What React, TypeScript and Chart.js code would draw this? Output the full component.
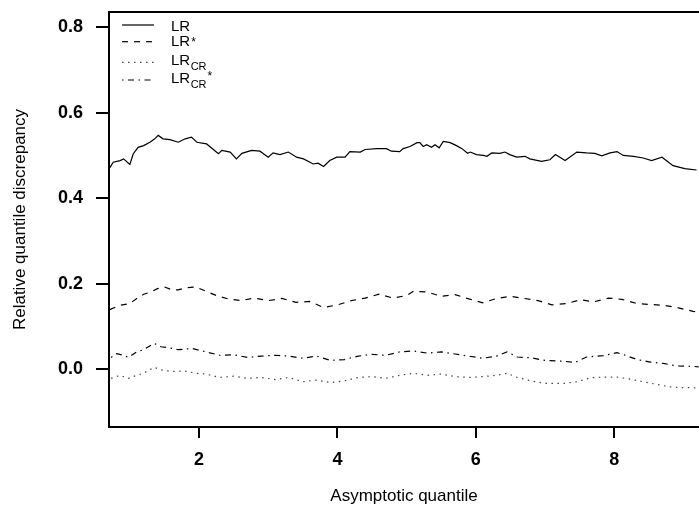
import { useEffect, useRef } from "react";
import { Chart, registerables } from "chart.js";

Chart.register(...registerables);

// ---- data ----
const lrX = [0.71, 0.76, 0.86, 0.91, 1.0, 1.05, 1.12, 1.2, 1.29, 1.36, 1.41, 1.48, 1.58, 1.7, 1.8, 1.89, 1.97, 2.11, 2.28, 2.33, 2.45, 2.54, 2.62, 2.76, 2.88, 3.0, 3.07, 3.17, 3.29, 3.41, 3.51, 3.65, 3.72, 3.8, 3.89, 3.99, 4.11, 4.18, 4.33, 4.4, 4.57, 4.71, 4.78, 4.9, 4.95, 5.05, 5.15, 5.19, 5.24, 5.29, 5.36, 5.41, 5.47, 5.53, 5.63, 5.72, 5.8, 5.88, 5.92, 6.01, 6.11, 6.16, 6.23, 6.35, 6.42, 6.49, 6.59, 6.71, 6.78, 6.95, 7.07, 7.15, 7.29, 7.46, 7.6, 7.72, 7.82, 7.94, 8.04, 8.13, 8.28, 8.42, 8.54, 8.69, 8.85, 9.02, 9.19];
const lrY = [0.471, 0.484, 0.488, 0.492, 0.479, 0.504, 0.519, 0.523, 0.531, 0.539, 0.547, 0.539, 0.537, 0.531, 0.539, 0.543, 0.531, 0.527, 0.504, 0.512, 0.508, 0.492, 0.505, 0.512, 0.51, 0.496, 0.506, 0.502, 0.508, 0.496, 0.492, 0.48, 0.482, 0.474, 0.488, 0.496, 0.496, 0.509, 0.508, 0.514, 0.516, 0.516, 0.51, 0.509, 0.516, 0.521, 0.53, 0.53, 0.521, 0.525, 0.519, 0.525, 0.518, 0.533, 0.53, 0.523, 0.516, 0.505, 0.508, 0.502, 0.5, 0.498, 0.506, 0.505, 0.508, 0.502, 0.496, 0.498, 0.492, 0.486, 0.49, 0.502, 0.488, 0.508, 0.506, 0.505, 0.499, 0.506, 0.509, 0.5, 0.498, 0.494, 0.488, 0.496, 0.476, 0.469, 0.466];

const lrStarX = [0.71, 0.8, 0.86, 1.0, 1.1, 1.2, 1.3, 1.4, 1.5, 1.6, 1.7, 1.8, 1.95, 2.1, 2.25, 2.4, 2.6, 2.8, 3.0, 3.2, 3.4, 3.6, 3.8, 4.0, 4.2, 4.4, 4.6, 4.8, 5.0, 5.1, 5.3, 5.5, 5.7, 5.9, 6.1, 6.3, 6.5, 6.7, 6.9, 7.1, 7.31, 7.51, 7.7, 7.92, 8.11, 8.33, 8.52, 8.71, 8.9, 9.14, 9.22];
const lrStarY = [0.139, 0.145, 0.149, 0.153, 0.165, 0.175, 0.18, 0.188, 0.192, 0.186, 0.185, 0.19, 0.192, 0.182, 0.172, 0.165, 0.16, 0.166, 0.16, 0.165, 0.156, 0.158, 0.144, 0.15, 0.16, 0.166, 0.175, 0.166, 0.172, 0.182, 0.18, 0.17, 0.174, 0.164, 0.155, 0.165, 0.17, 0.165, 0.16, 0.15, 0.153, 0.162, 0.157, 0.166, 0.163, 0.153, 0.151, 0.149, 0.144, 0.135, 0.133];

const lrCrX = [0.73, 0.86, 0.98, 1.1, 1.2, 1.35, 1.45, 1.6, 1.8, 1.95, 2.1, 2.3, 2.5, 2.7, 2.9, 3.1, 3.3, 3.5, 3.7, 3.9, 4.1, 4.3, 4.5, 4.7, 4.9, 5.1, 5.3, 5.5, 5.7, 5.9, 6.1, 6.3, 6.45, 6.6, 6.8, 7.0, 7.27, 7.46, 7.65, 7.84, 8.04, 8.23, 8.42, 8.61, 8.8, 8.99, 9.14, 9.22];
const lrCrY = [-0.022, -0.015, -0.022, -0.015, -0.01, 0.004, -0.002, -0.006, -0.005, -0.01, -0.012, -0.02, -0.017, -0.022, -0.02, -0.025, -0.02, -0.03, -0.026, -0.032, -0.028, -0.02, -0.018, -0.022, -0.015, -0.01, -0.015, -0.012, -0.018, -0.02, -0.018, -0.015, -0.01, -0.02, -0.028, -0.034, -0.034, -0.03, -0.021, -0.019, -0.019, -0.024, -0.03, -0.036, -0.042, -0.044, -0.044, -0.045];

const lrCrStarX = [0.73, 0.81, 0.91, 0.98, 1.1, 1.2, 1.35, 1.45, 1.55, 1.7, 1.9, 2.1, 2.3, 2.5, 2.7, 2.9, 3.1, 3.3, 3.5, 3.7, 3.9, 4.1, 4.3, 4.5, 4.7, 4.9, 5.1, 5.3, 5.5, 5.7, 5.9, 6.1, 6.3, 6.45, 6.6, 6.8, 7.0, 7.27, 7.43, 7.6, 7.84, 8.04, 8.16, 8.33, 8.52, 8.71, 8.9, 9.14, 9.22];
const lrCrStarY = [0.027, 0.036, 0.032, 0.027, 0.04, 0.045, 0.06, 0.052, 0.05, 0.045, 0.048, 0.04, 0.032, 0.033, 0.027, 0.03, 0.032, 0.03, 0.025, 0.03, 0.02, 0.022, 0.03, 0.034, 0.032, 0.04, 0.042, 0.037, 0.04, 0.035, 0.03, 0.025, 0.03, 0.04, 0.028, 0.026, 0.02, 0.018, 0.015, 0.028, 0.031, 0.038, 0.032, 0.022, 0.016, 0.013, 0.007, 0.006, 0.005];

const labelBase = ["LR", "LR", "LR", "LR"];
const labelSub = ["", "", "CR", "CR"];
const labelSup = ["", "*", "", "*"];

const xTicks = [2, 4, 6, 8];
const yTicks = [0, 0.2, 0.4, 0.6, 0.8];
const xRange = [0.699, 9.225];
const yRange = [-0.136, 0.836];

const FONT = '"Liberation Sans", Arial, Helvetica, sans-serif';

function zip(xs: number[], ys: number[]) {
  return xs.map((x, i) => ({ x, y: ys[i] }));
}

const boxPlugin = {
  id: "topBorder",
  afterDraw(chart: any) {
    const { ctx, chartArea } = chart;
    ctx.save();
    ctx.strokeStyle = "#000";
    ctx.lineWidth = 2;
    ctx.beginPath();
    ctx.moveTo(chartArea.left - 1, chartArea.top);
    ctx.lineTo(chartArea.right, chartArea.top);
    ctx.stroke();
    ctx.restore();
  },
};

const legendPlugin = {
  id: "rLegend",
  afterDraw(chart: any) {
    const { ctx, chartArea } = chart;
    const left = chartArea.left;
    const top = chartArea.top;
    const lineY = [13, 29.7, 50.3, 68];
    const baseY = [18.7, 34, 53, 71];
    chart.data.datasets.forEach((ds: any, i: number) => {
      ctx.save();
      ctx.strokeStyle = ds.borderColor;
      ctx.lineWidth = ds.borderWidth;
      ctx.setLineDash(ds.borderDash || []);
      ctx.beginPath();
      ctx.moveTo(left + 13, top + lineY[i]);
      ctx.lineTo(left + 45, top + lineY[i]);
      ctx.stroke();
      ctx.setLineDash([]);
      ctx.fillStyle = "#000";
      ctx.textAlign = "left";
      ctx.textBaseline = "alphabetic";
      let x = left + 62;
      ctx.font = `15px ${FONT}`;
      ctx.fillText(labelBase[i], x, top + baseY[i]);
      x += ctx.measureText(labelBase[i]).width;
      if (labelSub[i]) {
        ctx.font = `11px ${FONT}`;
        ctx.fillText(labelSub[i], x + 0.5, top + baseY[i] + 4.5);
        x += ctx.measureText(labelSub[i]).width + 0.5;
      }
      if (labelSup[i]) {
        ctx.font = `12px ${FONT}`;
        ctx.fillText(labelSup[i], x + 1, top + baseY[i] - (labelSub[i] ? 2.7 : 0));
      }
      ctx.restore();
    });
  },
};

export default function App() {
  const ref = useRef<HTMLCanvasElement | null>(null);

  useEffect(() => {
    if (!ref.current) return;
    const common = { pointRadius: 0, pointHoverRadius: 0, tension: 0, fill: false, borderColor: "#000", backgroundColor: "#000" };
    const chart = new Chart(ref.current, {
      type: "line",
      data: {
        datasets: [
          { ...common, label: "LR", data: zip(lrX, lrY), borderWidth: 1.2, borderDash: [] },
          { ...common, label: "LR*", data: zip(lrStarX, lrStarY), borderWidth: 1.2, borderDash: [6, 6] },
          { ...common, label: "LR_CR", data: zip(lrCrX, lrCrY), borderWidth: 1.2, borderColor: "#444", borderDash: [1.5, 4.5] },
          { ...common, label: "LR_CR*", data: zip(lrCrStarX, lrCrStarY), borderWidth: 1.2, borderDash: [1.5, 4.5, 6, 4.5] },
        ],
      },
      options: {
        animation: false,
        responsive: false,
        events: [],
        layout: { padding: { top: 12, left: 0, right: 0, bottom: 0 } },
        plugins: { legend: { display: false }, tooltip: { enabled: false }, title: { display: false } },
        scales: {
          x: {
            type: "linear",
            min: xRange[0],
            max: xRange[1],
            afterBuildTicks: (s: any) => { s.ticks = xTicks.map((v) => ({ value: v })); },
            afterFit: (s: any) => { s.height = 81; s.paddingLeft = 0; s.paddingRight = 0; },
            ticks: {
              autoSkip: false,
              maxRotation: 0,
              padding: 11,
              color: "#000",
              font: { family: FONT, size: 18, weight: "bold" },
              callback: (v: any) => String(v),
            },
            grid: { drawOnChartArea: false, drawTicks: true, tickLength: 11, color: "#000", lineWidth: 2 },
            border: { display: true, color: "#000", width: 2 },
            title: { display: true, text: "Asymptotic quantile", color: "#000", font: { family: FONT, size: 17, weight: "normal" }, padding: { top: 0, bottom: 1.5 } },
          },
          y: {
            type: "linear",
            min: yRange[0],
            max: yRange[1],
            afterBuildTicks: (s: any) => { s.ticks = yTicks.map((v) => ({ value: v })); },
            afterFit: (s: any) => { s.width = 109; s.paddingTop = 0; s.paddingBottom = 0; },
            ticks: {
              autoSkip: false,
              padding: 13,
              color: "#000",
              font: { family: FONT, size: 18, weight: "bold" },
              callback: (v: any) => Number(v).toFixed(1),
            },
            grid: { drawOnChartArea: false, drawTicks: true, tickLength: 13, color: "#000", lineWidth: 2 },
            border: { display: true, color: "#000", width: 2 },
            title: { display: true, text: "Relative quantile discrepancy", color: "#000", font: { family: FONT, size: 17, weight: "normal" }, padding: { top: 10, bottom: 0 } },
          },
        },
      },
      plugins: [boxPlugin, legendPlugin],
    } as any);
    return () => chart.destroy();
  }, []);

  return (
    <div style={{ position: "absolute", left: 0, top: 0, width: 699, height: 508, background: "#fff" }}>
      <canvas ref={ref} width={699} height={508} style={{ display: "block", width: 699, height: 508 }} />
    </div>
  );
}
